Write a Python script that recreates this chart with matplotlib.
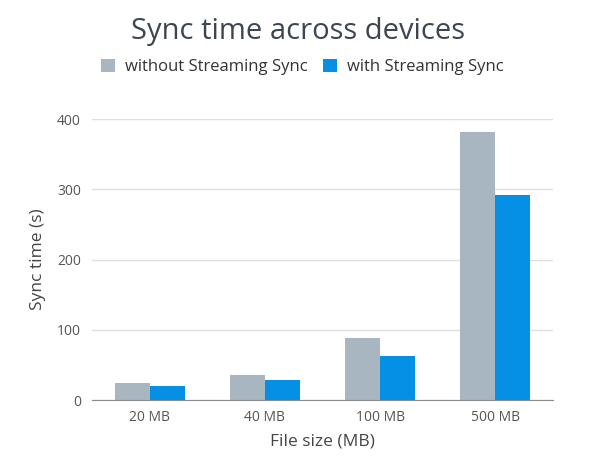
import matplotlib
import matplotlib.pyplot as plt
import numpy as np

matplotlib.use("Agg")

# chart data
categories = ["20 MB", "40 MB", "100 MB", "500 MB"]
without_sync = [24, 36, 88, 382]
with_sync = [20, 28, 63, 292]
yticks = [0, 100, 200, 300, 400]

plt.rcParams["font.family"] = ["Open Sans", "DejaVu Sans"]

fig = plt.figure(figsize=(5.89, 4.63), dpi=100)
ax = fig.add_axes([92 / 589, 1 - 400 / 463, (553 - 92) / 589, (400 - 119.3) / 463])

x = np.arange(len(categories))
w = 0.304
ax.bar(x - w / 2, without_sync, w, color="#a8b6c2", label="without Streaming Sync", zorder=2)
ax.bar(x + w / 2, with_sync, w, color="#0590e6", label="with Streaming Sync", zorder=2)

ax.set_xlim(-0.5, len(categories) - 0.5)
ax.set_ylim(0, 400)
ax.set_yticks(yticks)
ax.set_xticks(x)
ax.set_xticklabels(categories)
ax.grid(axis="y", color="#e0e0e0", linewidth=1, zorder=0)
ax.set_axisbelow(True)

for s in ["top", "right", "left"]:
    ax.spines[s].set_visible(False)
ax.spines["bottom"].set_color("#8a8a8a")
ax.spines["bottom"].set_zorder(3)

ax.tick_params(axis="both", length=0, labelsize=10, colors="#555555")
ax.tick_params(axis="x", pad=7)
ax.tick_params(axis="y", pad=8)
ax.set_xlabel("File size (MB)", fontsize=12.5, color="#444444", labelpad=6)
ax.set_ylabel("Sync time (s)", fontsize=12.5, color="#444444", labelpad=8)

fig.text(298 / 589, 1 - 32 / 463, "Sync time across devices", ha="center", va="center",
         fontsize=21, color="#3d4650")
fig.legend(loc="center", bbox_to_anchor=(302 / 589, 1 - 67 / 463), ncol=2, frameon=False,
           fontsize=12, handlelength=0.85, handleheight=0.85, handletextpad=0.6,
           columnspacing=0.9, labelcolor="#333333")

fig.savefig("out.png", dpi=100)
